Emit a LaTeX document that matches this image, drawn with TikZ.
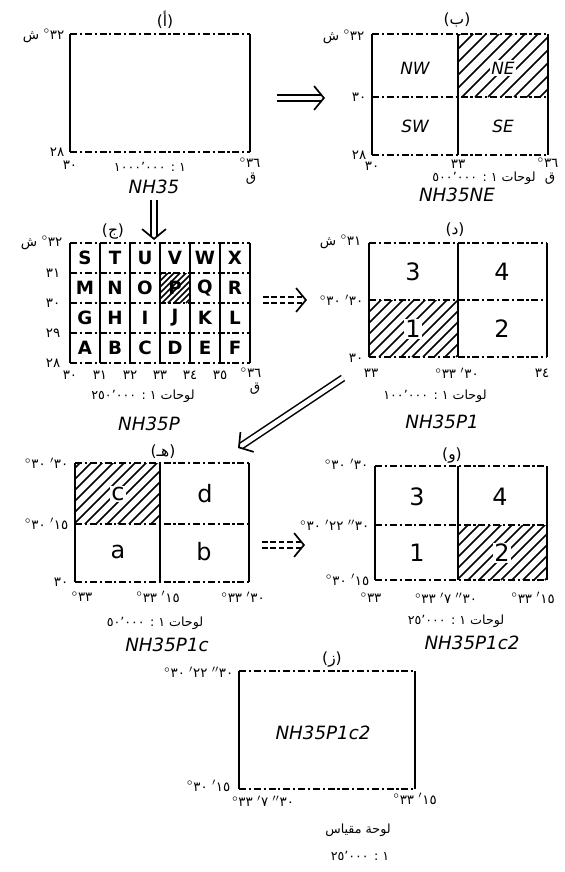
\documentclass[tikz,border=0pt]{standalone}
\usepackage{fontspec}
\setmainfont{DejaVu Sans}
\newfontfamily\arabicfont[Script=Arabic]{DejaVu Sans}
\TeXXeTstate=1
\usetikzlibrary{arrows.meta}
\newcommand{\dgr}{$^{\circ}$}
\newcommand{\mnt}{$^{\prime}$}
\newcommand{\scd}{$^{\prime\prime}$}
\newcommand{\hatchcell}[5]{%
  \begin{scope}
    \clip (#1,#2) rectangle (#3,#4);
    \foreach \k in {0,...,40}
      \draw[hatch] ({#1-100+\k*#5},#4) -- ++(100,-100);
  \end{scope}}

\begin{document}
\begin{tikzpicture}[x=0.25mm,y=-0.25mm,
    frame/.style={line width=1.5pt},
    hline/.style={line width=0.9pt,dash pattern=on 5pt off 2pt on 1.5pt off 2pt},
    hatch/.style={line width=1.2pt},
    ttl/.style={font=\arabicfont\fontsize{11}{13}\selectfont,inner sep=1pt},
    lab/.style={font=\arabicfont\fontsize{9.5}{11}\selectfont,inner sep=1pt},
    scl/.style={font=\arabicfont\fontsize{9}{11}\selectfont,inner sep=1pt},
    code/.style={font=\itshape\fontsize{13}{15}\selectfont,inner sep=1pt},
    cell/.style={font=\bfseries\fontsize{13}{15}\selectfont},
    quad/.style={font=\itshape\fontsize{12}{14}\selectfont},
    num/.style={font=\fontsize{17}{19}\selectfont},
    dbl/.style={double,double distance=3.2pt,line width=1.1pt,shorten >=2.5pt},
    dbldash/.style={dbl,dash pattern=on 4pt off 2pt},
    head/.style={draw=white,line width=1pt,
      -{Straight Barb[black,length=7pt,width=17pt,line width=1.2pt]}}
  ]
  \useasboundingbox (0,0) rectangle (564,872);

  \node[ttl] (a-ttl) at (165,20) {\beginR(أ)\endR};
  \draw[hline] (70,34) -- (250,34) (70,152) -- (250,152);
  \draw[frame] (70,34) -- (70,152) (250,34) -- (250,152);
  \node[lab,anchor=east] (a-n) at (66,36) {\beginR ش\endR\ \dgr٣٢};
  \node[lab,anchor=east] (a-s) at (66,152) {٢٨};
  \node[lab] (a-w) at (70,165) {٣٠};
  \node[lab] (a-e) at (250,163) {\dgr٣٦};
  \node[lab] (a-q) at (251,179) {\beginR ق\endR};
  \node[scl] (a-scl) at (150,167) {\beginR ١ : ١٠٠٠٬٠٠٠\endR};
  \node[code] (a-code) at (154,187) {NH35};

  \node[ttl] (b-ttl) at (457,20) {\beginR(ب)\endR};
  \hatchcell{458}{34}{548}{97}{13}
  \draw[hline] (372,34) -- (548,34) (372,97) -- (548,97) (372,155) -- (548,155);
  \draw[frame] (372,34) -- (372,155) (458,34) -- (458,155) (548,34) -- (548,155);
  \node[quad] (b-nw) at (415,68) {NW};
  \node[quad,fill=white,inner sep=1pt] (b-ne) at (503,68) {NE};
  \node[quad] (b-sw) at (415,126) {SW};
  \node[quad] (b-se) at (503,126) {SE};
  \node[lab,anchor=east] (b-n) at (366,37) {\beginR ش\endR\ \dgr٣٢};
  \node[lab,anchor=east] (b-m) at (368,97) {٣٠};
  \node[lab,anchor=east] (b-s) at (368,155) {٢٨};
  \node[lab] (b-w) at (372,166) {٣٠};
  \node[lab] (b-c) at (458,164) {٣٣};
  \node[lab] (b-e) at (548,163) {\dgr٣٦};
  \node[lab] (b-q) at (550,179) {\beginR ق\endR};
  \node[scl] (b-scl) at (484,178) {\beginR لوحات ١ : ٥٠٠٬٠٠٠\endR};
  \node[code] (b-code) at (457,195) {NH35NE};

  \coordinate (ab-s) at (277,98);
  \coordinate (ab-e) at (325,98);
  \draw[dbl] (ab-s) -- (ab-e);
  \draw[head] (ab-s) -- (ab-e);

  \node[ttl] (c-ttl) at (113,232) {\beginR(ج)\endR};
  \hatchcell{160}{273}{190}{303}{6}
  \foreach \y in {243,273,303,333,363}
    \draw[hline] (70,\y) -- (250,\y);
  \foreach \x in {70,100,...,250}
    \draw[frame] (\x,243) -- (\x,363);
  \foreach \l [count=\i from 0] in {S,T,U,V,W,X}
    \node[cell] (c-\l) at ({85+30*\i},258) {\l};
  \foreach \l [count=\i from 0] in {M,N,O,P,Q,R}
    \node[cell] (c-\l) at ({85+30*\i},288) {\l};
  \foreach \l [count=\i from 0] in {G,H,I,J,K,L}
    \node[cell] (c-\l) at ({85+30*\i},318) {\l};
  \foreach \l [count=\i from 0] in {A,B,C,D,E,F}
    \node[cell] (c-\l) at ({85+30*\i},348) {\l};
  \node[lab,anchor=east] (c-n) at (64,243) {\beginR ش\endR\ \dgr٣٢};
  \foreach \d/\y in {٣١/273,٣٠/303,٢٩/333,٢٨/363}
    \node[lab,anchor=east] (c-y\y) at (62,\y) {\d};
  \foreach \d [count=\i from 0] in {٣٠,٣١,٣٢,٣٣,٣٤,٣٥}
    \node[lab] (c-x\i) at ({70+30*\i},375) {\d};
  \node[lab] (c-x6) at (251,373) {\dgr٣٦};
  \node[lab] (c-q) at (255,389) {\beginR ق\endR};
  \node[scl] (c-scl) at (143,396) {\beginR لوحات ١ : ٢٥٠٬٠٠٠\endR};
  \node[code] (c-code) at (149,424) {NH35P};

  \coordinate (c-top) at (154,240);
  \draw[dbl,shorten <=3pt] (a-code.south) -- (c-top);
  \draw[head,shorten <=3pt] (a-code.south) -- (c-top);

  \node[ttl] (d-ttl) at (455,230) {\beginR(د)\endR};
  \hatchcell{369}{300}{458}{357}{11}
  \draw[hline] (369,243) -- (547,243) (369,300) -- (547,300) (369,357) -- (547,357);
  \draw[frame] (369,243) -- (369,357) (458,243) -- (458,357) (547,243) -- (547,357);
  \node[num] (d-3) at (413,272) {3};
  \node[num] (d-4) at (502,272) {4};
  \node[num,fill=white,inner sep=1pt] (d-1) at (413,329) {1};
  \node[num] (d-2) at (502,329) {2};
  \node[lab,anchor=east] (d-n) at (363,242) {\beginR ش\endR\ \dgr٣١};
  \node[lab,anchor=east] (d-m) at (365,300) {\dgr٣٠ \mnt٣٠};
  \node[lab,anchor=east] (d-s) at (365,358) {٣٠};
  \node[lab] (d-w) at (371,373) {٣٣};
  \node[lab] (d-c) at (457,373) {\dgr٣٣ \mnt٣٠};
  \node[lab] (d-e) at (542,373) {٣٤};
  \node[scl] (d-scl) at (435,396) {\beginR لوحات ١ : ١٠٠٬٠٠٠\endR};
  \node[code] (d-code) at (442,422) {NH35P1};

  \coordinate (cd-s) at (263,300);
  \coordinate (cd-e) at (307,300);
  \draw[dbldash] (cd-s) -- (cd-e);
  \draw[head] (cd-s) -- (cd-e);
  \coordinate (de-s) at (343,378);
  \coordinate (de-e) at (238,448);
  \draw[dbl] (de-s) -- (de-e);
  \draw[head] (de-s) -- (de-e);

  \node[ttl] (e-ttl) at (163,452) {\beginR(هـ)\endR};
  \hatchcell{75}{463}{160}{524}{11}
  \draw[hline] (75,463) -- (249,463) (75,524) -- (249,524) (75,582) -- (249,582);
  \draw[frame] (75,463) -- (75,582) (160,463) -- (160,582) (249,463) -- (249,582);
  \node[num,fill=white,inner sep=1pt] (e-c) at (118,494) {c};
  \node[num] (e-d) at (205,494) {d};
  \node[num] (e-a) at (118,552) {a};
  \node[num] (e-b) at (204,552) {b};
  \node[lab,anchor=east] (e-n) at (70,463) {\dgr٣٠ \mnt٣٠};
  \node[lab,anchor=east] (e-m) at (70,524) {\dgr٣٠ \mnt١٥};
  \node[lab,anchor=east] (e-s) at (70,582) {٣٠};
  \node[lab] (e-w) at (82,597) {\dgr٣٣};
  \node[lab] (e-c2) at (158,597) {\dgr٣٣ \mnt١٥};
  \node[lab] (e-e) at (243,597) {\dgr٣٣ \mnt٣٠};
  \node[scl] (e-scl) at (155,623) {\beginR لوحات ١ : ٥٠٬٠٠٠\endR};
  \node[code] (e-code) at (167,645) {NH35P1c};

  \coordinate (ef-s) at (262,545);
  \coordinate (ef-e) at (305,545);
  \draw[dbldash] (ef-s) -- (ef-e);
  \draw[head] (ef-s) -- (ef-e);

  \node[ttl] (f-ttl) at (452,456) {\beginR(و)\endR};
  \hatchcell{458}{525}{547}{580}{11}
  \draw[hline] (375,466) -- (547,466) (375,525) -- (547,525) (375,580) -- (547,580);
  \draw[frame] (375,466) -- (375,580) (458,466) -- (458,580) (547,466) -- (547,580);
  \node[num] (f-3) at (417,497) {3};
  \node[num] (f-4) at (500,497) {4};
  \node[num] (f-1) at (417,553) {1};
  \node[num,fill=white,inner sep=1pt] (f-2) at (502,553) {2};
  \node[lab,anchor=east] (f-n) at (370,464) {\dgr٣٠ \mnt٣٠};
  \node[lab,anchor=east] (f-m) at (371,525) {\dgr٣٠ \mnt٢٢ \scd٣٠};
  \node[lab,anchor=east] (f-s) at (371,580) {\dgr٣٠ \mnt١٥};
  \node[lab] (f-w) at (371,598) {\dgr٣٣};
  \node[lab] (f-c) at (446,598) {\dgr٣٣ \mnt٧ \scd٣٠};
  \node[lab] (f-e) at (533,598) {\dgr٣٣ \mnt١٥};
  \node[scl] (f-scl) at (456,621) {\beginR لوحات ١ : ٢٥٬٠٠٠\endR};
  \node[code] (f-code) at (472,643) {NH35P1c2};

  \node[ttl] (g-ttl) at (332,660) {\beginR(ز)\endR};
  \draw[hline] (239,671) -- (415,671) (239,789) -- (415,789);
  \draw[frame] (239,671) -- (239,789) (415,671) -- (415,789);
  \node[code] (g-code) at (323,733) {NH35P1c2};
  \node[lab,anchor=east] (g-n) at (235,672) {\dgr٣٠ \mnt٢٢ \scd٣٠};
  \node[lab,anchor=east] (g-s) at (232,786) {\dgr٣٠ \mnt١٥};
  \node[lab] (g-w) at (263,801) {\dgr٣٣ \mnt٧ \scd٣٠};
  \node[lab] (g-e) at (415,799) {\dgr٣٣ \mnt١٥};
  \node[scl] (g-scl) at (358,830) {\beginR لوحة مقياس\endR};
  \node[scl] (g-num) at (360,856) {\beginR ١ : ٢٥٬٠٠٠\endR};
\end{tikzpicture}
\end{document}
